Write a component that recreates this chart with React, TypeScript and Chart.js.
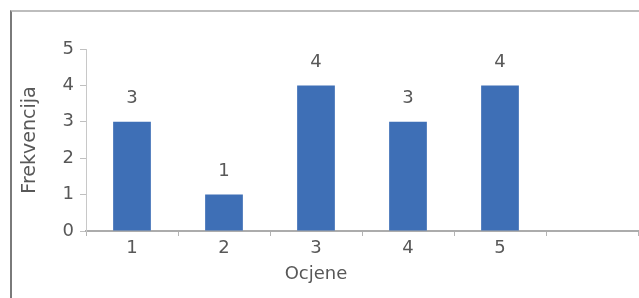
import React, { useEffect, useRef } from "react";
import { Chart, registerables } from "chart.js";

Chart.register(...registerables);

const categories: string[] = ["1", "2", "3", "4", "5", ""];
const frequencies: number[] = [3, 1, 4, 3, 4];
const yTicks: number[] = [0, 1, 2, 3, 4, 5];
const xTitle = "Ocjene";
const yTitle = "Frekvencija";

const FONT = '"DejaVu Sans", sans-serif';
const TEXT = "#585858";
const BAR = "#3e6fb6";

const valueLabels = {
  id: "valueLabels",
  afterDatasetsDraw(chart: any) {
    const ctx = chart.ctx;
    const meta = chart.getDatasetMeta(0);
    ctx.save();
    ctx.font = `18px ${FONT}`;
    ctx.fillStyle = TEXT;
    ctx.textAlign = "center";
    ctx.textBaseline = "middle";
    meta.data.forEach((bar: any, i: number) => {
      const v = frequencies[i];
      if (v == null) return;
      ctx.fillText(String(v), bar.x, bar.y - 23);
    });
    const xs = chart.scales.x;
    const cx = (xs.getPixelForValue(0) + xs.getPixelForValue(frequencies.length - 1)) / 2;
    ctx.fillText(xTitle, cx, xs.bottom - 24);
    ctx.restore();
  },
};

export default function App() {
  const ref = useRef<HTMLCanvasElement>(null);
  useEffect(() => {
    if (!ref.current) return;
    const chart = new Chart(ref.current, {
      type: "bar",
      data: {
        labels: categories,
        datasets: [
          {
            data: frequencies,
            backgroundColor: BAR,
            borderWidth: 0,
            barPercentage: 0.41,
            categoryPercentage: 1,
          },
        ],
      },
      plugins: [valueLabels],
      options: {
        responsive: false,
        animation: false,
        layout: { padding: { top: 49, left: 0, right: 1, bottom: 0 } },
        plugins: { legend: { display: false }, tooltip: { enabled: false } },
        scales: {
          x: {
            grid: {
              offset: true,
              drawOnChartArea: false,
              drawTicks: true,
              tickLength: 5,
              color: "#b4b4b4",
            },
            border: { color: "#acacac", width: 2 },
            ticks: {
              padding: 2,
              color: TEXT,
              font: { family: FONT, size: 18 },
              maxRotation: 0,
            },
            afterFit(scale: any) {
              scale.height = 67;
              scale.paddingRight = 0;
              scale.paddingLeft = 0;
            },
          },
          y: {
            min: 0,
            max: 5,
            afterBuildTicks(scale: any) {
              scale.ticks = yTicks.map((v) => ({ value: v }));
            },
            grid: {
              drawOnChartArea: false,
              drawTicks: true,
              tickLength: 6,
              color: "#c0c0c0",
            },
            border: { color: "#c8c8c8", width: 1 },
            ticks: {
              padding: 6,
              color: TEXT,
              font: { family: FONT, size: 18 },
            },
            title: {
              display: true,
              text: yTitle,
              color: TEXT,
              font: { family: FONT, size: 19 },
              padding: { top: 19, bottom: 0 },
            },
            afterFit(scale: any) {
              scale.width = 86;
              scale.paddingTop = 0;
              scale.paddingBottom = 0;
            },
          },
        },
      },
    });
    return () => chart.destroy();
  }, []);

  return (
    <div style={{ position: "absolute", left: 0, top: 0, width: 639, height: 298, background: "#fff", overflow: "hidden" }}>
      <div
        style={{
          position: "absolute",
          left: 10,
          top: 10,
          width: 700,
          height: 400,
          boxSizing: "border-box",
          borderTop: "2px solid #bdbdbd",
          borderLeft: "2px solid #7a7a7a",
          borderRight: "none",
          borderBottom: "none",
        }}
      />
      <canvas ref={ref} width={639} height={298} style={{ position: "absolute", left: 0, top: 0 }} />
    </div>
  );
}
